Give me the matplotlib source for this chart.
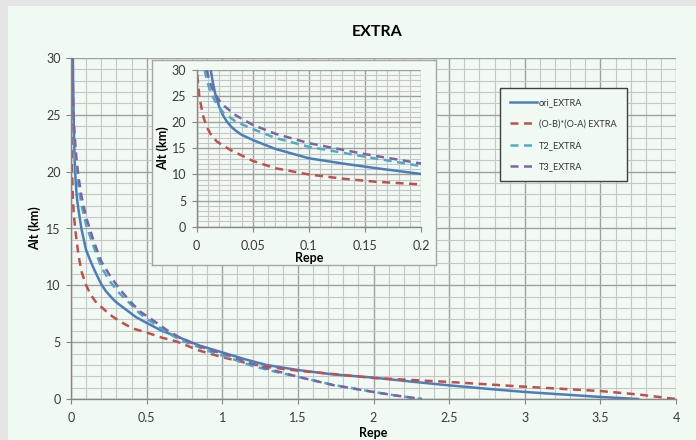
import matplotlib
matplotlib.use("Agg")
import matplotlib.pyplot as plt
from matplotlib.patches import Rectangle
from matplotlib.ticker import MultipleLocator, FormatStrFormatter

plt.rcParams['font.family'] = ['Lato', 'DejaVu Sans']

# series (x = Repe, y = Alt km)
ori_x = [0.0125, 0.0145, 0.017, 0.02, 0.023, 0.027, 0.031, 0.035, 0.04, 0.05, 0.07, 0.1, 0.13,
         0.16, 0.2, 0.23, 0.27, 0.3, 0.37, 0.43, 0.5, 0.6, 0.7, 0.85, 1.0, 1.15, 1.29, 1.5, 1.73,
         2.0, 2.25, 2.5, 2.75, 3.0, 3.25, 3.5, 3.75]
ori_y = [30, 27.5, 25, 23, 21.5, 20.1, 19.1, 18.35, 17.6, 16.6, 14.9, 13.1, 12.1,
         11.2, 10.1, 9.5, 8.9, 8.5, 7.8, 7.2, 6.7, 6.0, 5.5, 4.7, 4.1, 3.5, 3.0, 2.55, 2.17,
         1.88, 1.53, 1.2, 0.9, 0.62, 0.4, 0.18, 0]

red_x = [0.0005, 0.0025, 0.006, 0.009, 0.013, 0.018, 0.03, 0.05, 0.07, 0.1, 0.13, 0.16, 0.2,
         0.23, 0.27, 0.31, 0.36, 0.41, 0.5, 0.6, 0.7, 0.85, 1.0, 1.15, 1.29, 1.5, 1.73, 2.0, 2.5,
         3.0, 3.5, 3.75, 4.0]
red_y = [29.0, 24.6, 21.0, 19.1, 17.5, 16.3, 14.7, 12.6, 11.2, 10.0, 9.2, 8.6, 8.1,
         7.75, 7.3, 6.95, 6.55, 6.2, 5.85, 5.4, 5.05, 4.25, 3.68, 3.2, 2.84, 2.49, 2.2, 1.85, 1.5,
         1.08, 0.7, 0.4, 0]

t2_x = [0.007, 0.0085, 0.01, 0.013, 0.018, 0.024, 0.035, 0.05, 0.07, 0.1, 0.15, 0.2, 0.26, 0.32,
        0.39, 0.456, 0.545, 0.63, 0.72, 0.81, 0.92, 1.03, 1.2, 1.35, 1.5, 1.73, 2.0, 2.15, 2.32]
t2_y = [30, 28.6, 27.4, 25.4, 23.4, 21.8, 20.1, 18.7, 17.0, 15.3, 13.4, 11.6, 10.3, 9.3,
        8.4, 7.5, 6.66, 5.9, 5.2, 4.75, 4.16, 3.7, 2.9, 2.4, 1.95, 1.25, 0.62, 0.3, 0]

t3_x = [0.009, 0.0105, 0.012, 0.015, 0.02, 0.024, 0.035, 0.05, 0.07, 0.1, 0.15, 0.2, 0.26, 0.32,
        0.39, 0.456, 0.545, 0.63, 0.72, 0.81, 0.92, 1.03, 1.15, 1.29, 1.5, 1.73, 2.0, 2.15, 2.32]
t3_y = [30, 28.6, 27.5, 25.9, 24.2, 23.2, 21.3, 19.5, 17.8, 16.0, 13.9, 12.1, 10.8, 9.7,
        8.6, 7.7, 6.9, 6.1, 5.4, 4.85, 4.3, 3.9, 3.3, 2.7, 1.96, 1.23, 0.62, 0.3, 0]

labels = ['ori_EXTRA', '(O-B)*(O-A) EXTRA', 'T2_EXTRA', 'T3_EXTRA']
colors = ['#4a7ebb', '#c0504d', '#4bacc6', '#8064a2']

BG = '#f1f9f3'
W, H = 696, 440


def fx(px):
    return px / W


def fy(py):
    return 1 - py / H


def style_axes(ax, xmaj, xmin, ymaj, ymin, xlim, ylim):
    ax.set_facecolor(BG)
    ax.set_xlim(*xlim)
    ax.set_ylim(*ylim)
    ax.xaxis.set_major_locator(MultipleLocator(xmaj))
    ax.xaxis.set_minor_locator(MultipleLocator(xmin))
    ax.yaxis.set_major_locator(MultipleLocator(ymaj))
    ax.yaxis.set_minor_locator(MultipleLocator(ymin))
    ax.xaxis.set_major_formatter(FormatStrFormatter('%g'))
    ax.grid(which='major', color='#a0a0a0', lw=1.0)
    ax.grid(which='minor', color='#c6c6c6', lw=0.8)
    ax.set_axisbelow(True)
    for s in ['top', 'right']:
        ax.spines[s].set_visible(False)
    for s in ['left', 'bottom']:
        ax.spines[s].set_color('#868686')
        ax.spines[s].set_linewidth(1.0)
    ax.tick_params(which='major', direction='out', length=3.5, width=0.8, color='#868686',
                   labelsize=9, labelcolor='#3a3a3a')
    ax.tick_params(axis='x', which='major', pad=6)
    ax.tick_params(axis='y', which='major', pad=4)
    ax.tick_params(which='minor', length=0)


def draw_series(ax):
    ax.plot(ori_x, ori_y, color=colors[0], lw=1.8, label=labels[0])
    ax.plot(red_x, red_y, color=colors[1], lw=1.8, dashes=(3.2, 2.2), label=labels[1])
    ax.plot(t2_x, t2_y, color=colors[2], lw=1.8, dashes=(3.2, 2.2), label=labels[2])
    ax.plot(t3_x, t3_y, color=colors[3], lw=1.8, dashes=(3.2, 2.2), label=labels[3])


fig = plt.figure(figsize=(6.96, 4.40), dpi=100)
fig.patch.set_facecolor('#e5e5e5')
fig.patches.append(Rectangle((fx(8), 0), 1 - fx(8), fy(6), transform=fig.transFigure,
                             facecolor=BG, edgecolor='none', zorder=-5))

# main chart
ax = fig.add_axes([fx(71), fy(399), fx(605), 341 / H])
style_axes(ax, 0.5, 0.1, 5, 1, (0, 4), (0, 30))
draw_series(ax)
ax.set_xlabel('Repe', fontsize=9, fontweight='bold', labelpad=2)
ax.set_ylabel('Alt (km)', fontsize=9, fontweight='bold')
ax.yaxis.set_label_coords((41 - 71) / 605, 0.5)
fig.text(fx(377), fy(32), 'EXTRA', fontsize=11.5, fontweight='bold', ha='center', va='center')

leg = ax.legend(loc='upper left', bbox_to_anchor=(fx(500), fy(88)), bbox_transform=fig.transFigure,
                fontsize=6.6, frameon=True, fancybox=False, borderpad=1.1, labelspacing=1.35,
                handlelength=2.9, handletextpad=0.25, borderaxespad=0)
leg.get_frame().set_edgecolor('#404040')
leg.get_frame().set_facecolor(BG)
leg.get_frame().set_alpha(1)
leg.get_frame().set_linewidth(1.0)
for t in leg.get_texts():
    t.set_color('#333333')

# inset frame
box = fig.add_axes([fx(152), fy(265), fx(284), 205 / H], zorder=3)
box.set_facecolor(BG)
box.set_xticks([])
box.set_yticks([])
for s in box.spines.values():
    s.set_color('#a6a6a6')
    s.set_linewidth(1.0)

# inset chart
ins = fig.add_axes([fx(196.7), fy(226.7), fx(224.3), 156.7 / H], zorder=4)
style_axes(ins, 0.05, 0.01, 5, 1, (0, 0.2), (0, 30))
draw_series(ins)
ins.set_xlabel('Repe', fontsize=9, fontweight='bold', labelpad=0)
ins.set_ylabel('Alt (km)', fontsize=9, fontweight='bold')
ins.yaxis.set_label_coords((169 - 196.7) / 224.3, 0.5)

fig.savefig('out.png', dpi=100, facecolor=fig.get_facecolor())
